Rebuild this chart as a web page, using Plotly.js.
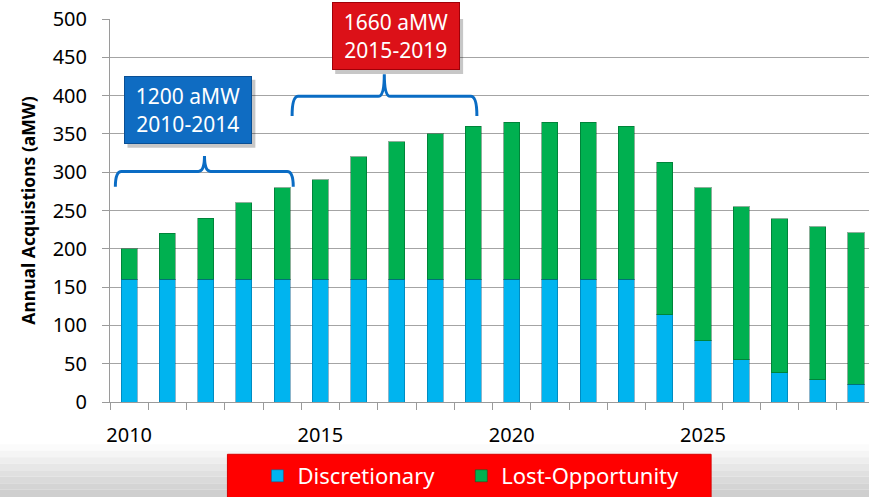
<!DOCTYPE html>
<html>
<head>
<meta charset="utf-8">
<script src="https://cdn.plot.ly/plotly-3.0.1.min.js"></script>
<style>html,body{margin:0;padding:0;background:#fff;}#chart{width:869px;height:497px;}</style>
</head>
<body>
<div id="chart"></div>
<script>
// Data
const years = [2010,2011,2012,2013,2014,2015,2016,2017,2018,2019,2020,2021,2022,2023,2024,2025,2026,2027,2028,2029];
const discretionary = [160,160,160,160,160,160,160,160,160,160,160,160,160,160,114,80,55,38,29,23];
const lostOpportunity = [40,60,80,100,120,130,160,180,190,200,205,205,205,200,199,200,200,201,200,198];
const yTicks = [0,50,100,150,200,250,300,350,400,450,500];
const xTickYears = [2010,2015,2020,2025];
const boundaries = [2009.5,2010.5,2011.5,2012.5,2013.5,2014.5,2015.5,2016.5,2017.5,2018.5,2019.5,2020.5,2021.5,2022.5,2023.5,2024.5,2025.5,2026.5,2027.5,2028.5];
const callouts = [
  {text:'1200 aMW<br>2010-2014', color:'#0f6cc2', border:'#0a4f94', x:2011.55, y:381.5, from:2009.64, to:2014.29, mid:2011.97, lineY:301, endY:281, tipY:321},
  {text:'1660 aMW<br>2015-2019', color:'#dc1118', border:'#a00008', x:2016.98, y:477.6, from:2014.26, to:2019.09, mid:2016.67, lineY:399, endY:373.5, tipY:428}
];

const FONT = 'Noto Sans, Open Sans, sans-serif';
const PXX = 38.28, PXY = 0.7682; // px per data unit (layout geometry)

const traces = [
  {type:'bar', name:'Discretionary', x:years, y:discretionary, legend:'legend',
   marker:{color:'#00b4ef', line:{color:'rgba(0,90,140,0.45)', width:1}}, hoverinfo:'skip'},
  {type:'bar', name:'Lost-Opportunity', x:years, y:lostOpportunity, legend:'legend2',
   marker:{color:'#00b050', line:{color:'rgba(0,80,30,0.45)', width:1}}, hoverinfo:'skip'}
];

function brace(c){
  const dx = 0.16;
  return 'M'+c.from+','+c.endY+
    ' Q'+c.from+','+c.lineY+' '+(c.from+dx)+','+c.lineY+
    ' L'+(c.mid-dx)+','+c.lineY+
    ' Q'+c.mid+','+c.lineY+' '+c.mid+','+c.tipY+
    ' Q'+c.mid+','+c.lineY+' '+(c.mid+dx)+','+c.lineY+
    ' L'+(c.to-dx)+','+c.lineY+
    ' Q'+c.to+','+c.lineY+' '+c.to+','+c.endY;
}

const shapes = [];
const bandCols = ['#fbfbfb','#f5f5f5','#eeeeee','#e7e7e7','#e0e0e0','#dadada','#d4d4d4','#cfcfcf'];
const py = Y => (403.5 - Y)/384.5;
const px = X => (X - 109.5)/759.5;
for (let i=0;i<bandCols.length;i++){
  const y0 = 446 + i*6.5, y1 = y0 + 6.6;
  shapes.push({type:'rect', xref:'paper', yref:'paper', x0:-0.2, x1:1.05, y0:py(y0), y1:py(i===bandCols.length-1?510:y1),
    fillcolor:bandCols[i], line:{width:0}, layer:'below'});
}
// red legend box
shapes.push({type:'rect', xref:'paper', yref:'paper', x0:px(227), x1:px(711), y0:py(456), y1:py(510),
  fillcolor:'#ff0000', line:{color:'#d80000', width:1}, layer:'above'});
// callout box shadows
callouts.forEach(c => {
  const hw = 64/PXX, hh = 34/PXY;
  shapes.push({type:'rect', xref:'x', yref:'y', x0:c.x-hw+3/PXX, x1:c.x+hw+3/PXX, y0:c.y-hh-4/PXY, y1:c.y+hh-4/PXY,
    fillcolor:'rgba(0,0,0,0.22)', line:{width:0}, layer:'above'});
});
callouts.forEach(c => shapes.push({type:'path', xref:'x', yref:'y', path:brace(c), line:{color:'#0a6cc4', width:3}, layer:'above'}));

const annotations = callouts.map(c => ({
  x:c.x, y:c.y, xref:'x', yref:'y', text:c.text, showarrow:false,
  font:{family:FONT, size:21, color:'#ffffff'}, bgcolor:c.color, bordercolor:c.border, borderwidth:1,
  width:126, height:66, borderpad:0, align:'center', valign:'middle'
}));

const legendBase = {orientation:'h', xanchor:'left', y:py(478), yanchor:'middle',
  bgcolor:'rgba(0,0,0,0)', font:{family:FONT, size:22, color:'#ffffff'}};

const layout = {
  width:869, height:497,
  margin:{l:109.5, r:0, t:19, b:93.5, pad:0},
  paper_bgcolor:'#ffffff', plot_bgcolor:'rgba(0,0,0,0)',
  barmode:'stack', bargap:0.58,
  showlegend:true,
  legend:Object.assign({}, legendBase, {x:px(257)}),
  legend2:Object.assign({}, legendBase, {x:px(461)}),
  xaxis:{type:'linear', range:[2009.5, 2029.34], tickvals:xTickYears, ticktext:xTickYears.map(String),
    ticks:'', showgrid:false, zeroline:false, showline:true, linecolor:'#9a9a9a', linewidth:1,
    tickfont:{family:FONT, size:20, color:'#000'}, ticklabelstandoff:15,
    minor:{tickvals:boundaries, ticks:'outside', ticklen:7, tickcolor:'#9a9a9a', showgrid:false}},
  yaxis:{range:[0,500], tickvals:yTicks, showgrid:true, gridcolor:'#a4a4a4', gridwidth:1, zeroline:false,
    showline:true, linecolor:'#9a9a9a', linewidth:1, ticks:'outside', ticklen:7, tickcolor:'#9a9a9a',
    tickfont:{family:FONT, size:20, color:'#000'}, ticklabelstandoff:11,
    title:{text:'Annual Acquistions (aMW)', font:{family:FONT, size:17.5, color:'#000', weight:'bold'}, standoff:12}},
  shapes:shapes, annotations:annotations
};

Plotly.newPlot('chart', traces, layout, {displayModeBar:false, staticPlot:true});
</script>
</body>
</html>
